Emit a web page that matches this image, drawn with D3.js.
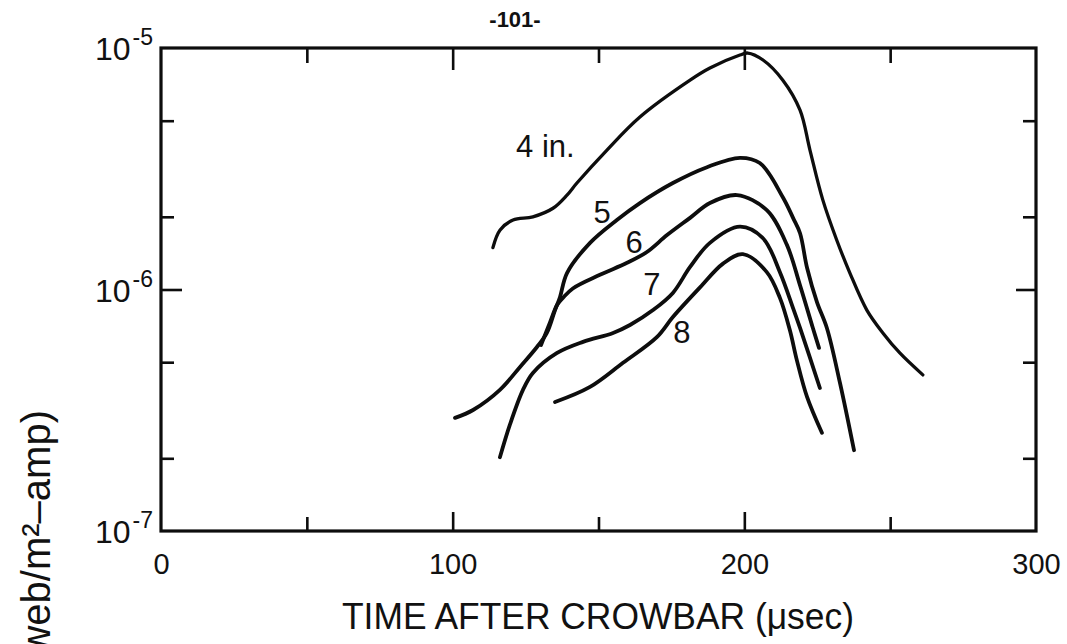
<!DOCTYPE html>
<html>
<head>
<meta charset="utf-8">
<script src="https://cdn.jsdelivr.net/npm/d3@7"></script>
<style>
  html, body { margin: 0; padding: 0; background: #fff; }
  svg { display: block; }
  text { font-family: "Liberation Sans", Arial, sans-serif; fill: #111; }
</style>
</head>
<body>
<svg id="chart" width="1067" height="644"></svg>
<script>
// Field per unit current vs. time after crowbar, one curve per probe radius (in.)
const curve4in = [
  [113.8, 1.49e-6], [116.2, 1.76e-6], [120.7, 1.94e-6], [127.5, 2.0e-6],
  [134.4, 2.17e-6], [139.2, 2.46e-6], [142.6, 2.76e-6], [152.9, 3.78e-6],
  [164.2, 5.18e-6], [181.4, 7.36e-6], [188.2, 8.26e-6], [198.5, 9.35e-6],
  [201.2, 9.53e-6], [206.4, 8.92e-6], [213.2, 7.36e-6], [219.1, 5.53e-6],
  [222.5, 3.78e-6], [226.9, 2.35e-6], [231.7, 1.60e-6], [236.2, 1.17e-6],
  [242.0, 8.22e-7], [247.5, 6.61e-7], [253.3, 5.46e-7], [261.2, 4.43e-7]
];
const curve5in = [
  [100.8, 2.94e-7], [107.0, 3.17e-7], [116.2, 3.84e-7], [123.1, 4.78e-7],
  [128.9, 5.78e-7], [132.3, 6.61e-7], [135.1, 8.22e-7], [136.8, 9.31e-7],
  [139.2, 1.17e-6], [147.1, 1.56e-6], [156.3, 1.94e-6], [164.2, 2.28e-6],
  [175.5, 2.76e-6], [187.2, 3.21e-6], [198.5, 3.51e-6], [205.3, 3.34e-6],
  [213.2, 2.41e-6], [216.7, 1.98e-6], [219.1, 1.71e-6], [221.5, 1.23e-6],
  [224.9, 8.87e-7], [228.3, 6.93e-7], [232.8, 4.10e-7], [237.6, 2.16e-7]
];
const curve6in = [
  [130.3, 5.89e-7], [133.4, 7.33e-7], [135.8, 8.63e-7], [137.8, 9.23e-7],
  [141.2, 1.01e-6], [150.5, 1.15e-6], [159.8, 1.29e-6], [166.6, 1.43e-6],
  [173.5, 1.68e-6], [181.4, 1.98e-6], [188.2, 2.28e-6], [197.5, 2.46e-6],
  [207.7, 2.13e-6], [214.6, 1.53e-6], [219.1, 1.04e-6], [223.5, 6.93e-7],
  [225.6, 5.73e-7]
];
const curve7in = [
  [116.2, 2.02e-7], [119.6, 2.75e-7], [124.1, 3.84e-7], [127.5, 4.51e-7],
  [135.8, 5.46e-7], [144.7, 6.07e-7], [155.0, 6.61e-7], [160.8, 7.13e-7],
  [168.7, 8.22e-7], [175.5, 9.68e-7], [181.4, 1.24e-6], [188.2, 1.56e-6],
  [198.5, 1.82e-6], [206.4, 1.63e-6], [212.2, 1.18e-6], [216.7, 8.38e-7],
  [219.1, 6.93e-7], [225.9, 3.91e-7]
];
const curve8in = [
  [135.1, 3.42e-7], [147.1, 3.95e-7], [158.4, 4.97e-7], [170.0, 6.35e-7],
  [175.5, 7.69e-7], [184.8, 1.02e-6], [192.7, 1.28e-6], [199.5, 1.40e-6],
  [207.7, 1.18e-6], [212.2, 9.23e-7], [215.6, 6.79e-7], [218.0, 5.10e-7],
  [221.5, 3.59e-7], [226.6, 2.55e-7]
];

// Curve labels: text, and the time / value where each one is centred
const curveLabelText = ["4 in.", "5", "6", "7", "8"];
const curveLabelTime = [131.8, 151.2, 162.2, 168.3, 178.6];
const curveLabelValue = [3.91e-6, 2.09e-6, 1.56e-6, 1.045e-6, 6.61e-7];

// Axis ticks
const xLabelTicks = [0, 100, 200, 300];
const xMajorTicks = [100, 200];
const xMinorTicks = [50, 150, 250];
const yLabelTicks = [1e-5, 1e-6, 1e-7];
const yLabelExp = ["-5", "-6", "-7"];
const yMajorTicks = [1e-6];
const yMinorTicks = [5e-6, 2e-6, 5e-7, 2e-7];

const svg = d3.select("#chart");
svg.append("rect").attr("width", 1067).attr("height", 644).attr("fill", "#fff");

const x = d3.scaleLinear().domain([0, 300]).range([161, 1036]);
const y = d3.scaleLog().domain([1e-7, 1e-5]).range([531, 48]);

const ink = "#0d0d0d";

// Inward-pointing ticks on all four sides
function tickAxis(axisFn, scale, values, size, transform) {
  const g = svg.append("g").attr("transform", transform)
    .call(axisFn(scale).tickValues(values).tickSize(-size).tickFormat(""));
  g.select(".domain").remove();
  g.selectAll(".tick line").attr("stroke", ink).attr("stroke-width", 2.6);
  return g;
}
tickAxis(d3.axisBottom, x, xMajorTicks, 19, "translate(0,531)");
tickAxis(d3.axisBottom, x, xMinorTicks, 14, "translate(0,531)");
tickAxis(d3.axisTop, x, xMajorTicks, 22, "translate(0,48)");
tickAxis(d3.axisTop, x, xMinorTicks, 15, "translate(0,48)");
tickAxis(d3.axisLeft, y, yMajorTicks, 21, "translate(161,0)");
tickAxis(d3.axisLeft, y, yMinorTicks, 13, "translate(161,0)");
tickAxis(d3.axisRight, y, yMajorTicks, 20, "translate(1036,0)");
tickAxis(d3.axisRight, y, yMinorTicks, 13, "translate(1036,0)");

// Frame
svg.append("rect")
  .attr("x", x(0)).attr("y", y(1e-5))
  .attr("width", x(300) - x(0)).attr("height", y(1e-7) - y(1e-5))
  .attr("fill", "none").attr("stroke", ink).attr("stroke-width", 3.2);

// X tick labels
const xLab = svg.append("g").attr("transform", "translate(0,531)")
  .call(d3.axisBottom(x).tickValues(xLabelTicks).tickSize(0).tickPadding(22)
    .tickFormat(d3.format("d")));
xLab.select(".domain").remove();
xLab.selectAll("text").attr("font-size", 29).attr("fill", ink)
  .attr("font-family", "Liberation Sans, Arial, sans-serif");

// Y tick labels: 10 with superscript exponent
yLabelTicks.forEach((v, i) => {
  const t = svg.append("text")
    .attr("x", 153).attr("y", y(v) + 12)
    .attr("text-anchor", "end").attr("font-size", 32).attr("fill", ink);
  t.append("tspan").text("10");
  t.append("tspan").attr("dx", 2).attr("dy", -15).attr("font-size", 23).text(yLabelExp[i]);
});

// Curves
const line = d3.line()
  .x(d => x(d[0])).y(d => y(d[1]))
  .curve(d3.curveCatmullRom.alpha(0.5));

const curves = [curve4in, curve5in, curve6in, curve7in, curve8in];
svg.append("g").selectAll("path").data(curves).join("path")
  .attr("d", line)
  .attr("fill", "none").attr("stroke", ink)
  .attr("stroke-width", (d, i) => i === 0 ? 3.3 : 3.8)
  .attr("stroke-linecap", "round").attr("stroke-linejoin", "round");

// Curve labels
svg.append("g").selectAll("text").data(curveLabelText).join("text")
  .attr("x", (d, i) => x(curveLabelTime[i]))
  .attr("y", (d, i) => y(curveLabelValue[i]))
  .attr("text-anchor", "middle").attr("dominant-baseline", "central")
  .attr("font-size", 31).attr("fill", ink)
  .text(d => d);

// Axis titles
svg.append("text")
  .attr("x", 598).attr("y", 629)
  .attr("text-anchor", "middle").attr("font-size", 36).attr("fill", ink)
  .attr("textLength", 512).attr("lengthAdjust", "spacingAndGlyphs")
  .text("TIME AFTER CROWBAR (\u03bcsec)");

svg.append("text")
  .attr("transform", "translate(50,410) rotate(-90)")
  .attr("text-anchor", "end").attr("font-size", 40).attr("fill", ink)
  .text("(web/m\u00b2\u2013amp)");

// Page number
svg.append("text")
  .attr("x", 515).attr("y", 27)
  .attr("text-anchor", "middle").attr("font-size", 22).attr("font-weight", "bold")
  .attr("font-family", "Liberation Serif, serif").attr("fill", ink)
  .text("-101-");
</script>
</body>
</html>
